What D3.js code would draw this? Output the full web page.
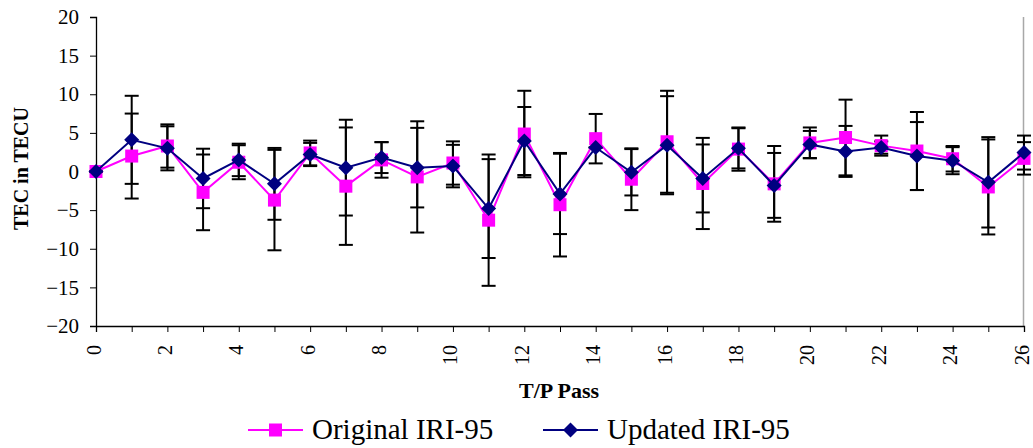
<!DOCTYPE html>
<html>
<head>
<meta charset="utf-8">
<script src="https://cdn.jsdelivr.net/npm/d3@7"></script>
<style>
  html, body { margin: 0; padding: 0; background: #fff; }
  svg { display: block; }
</style>
</head>
<body>
<svg id="chart" width="1033" height="448"></svg>
<script>
// ---- data ----
const passes = d3.range(0, 27);
const originalValues = [0, 2.0, 3.3, -2.7, 1.2, -3.7, 2.4, -1.9, 1.5, -0.7, 1.1, -6.3, 4.85, -4.3, 4.25, -1.0, 3.85, -1.55, 2.9, -1.6, 3.7, 4.4, 3.35, 2.65, 1.65, -2.0, 1.7];
const originalErrors = [0, 5.5, 2.8, 4.9, 2.2, 6.5, 1.6, 7.6, 2.3, 7.2, 2.8, 8.5, 5.6, 6.7, 3.2, 4.0, 6.6, 5.9, 2.8, 4.9, 2.0, 4.9, 1.3, 5.05, 1.65, 6.15, 2.1];
const updatedValues = [0, 4.1, 3.0, -0.9, 1.5, -1.6, 2.2, 0.5, 1.8, 0.5, 0.7, -4.8, 3.95, -2.9, 3.1, -0.1, 3.4, -0.9, 3.0, -1.8, 3.5, 2.6, 3.1, 2.0, 1.4, -1.4, 2.45];
const updatedErrors = [0, 5.7, 2.85, 3.85, 2.1, 4.65, 1.5, 6.2, 2.0, 5.15, 2.75, 6.4, 4.4, 5.2, 0, 3.0, 6.35, 4.4, 2.6, 4.2, 1.75, 3.3, 0.8, 4.4, 1.75, 5.85, 2.2];
const yTicks = [-20, -15, -10, -5, 0, 5, 10, 15, 20];
const xLabelTicks = [0, 2, 4, 6, 8, 10, 12, 14, 16, 18, 20, 22, 24, 26];
const seriesNames = ["Original IRI-95", "Updated IRI-95"];

const svg = d3.select("#chart");
const x = d3.scaleLinear().domain([0, 26]).range([96, 1024]);
const y = d3.scaleLinear().domain([-20, 20]).range([326, 17]);
const serif = "Liberation Serif, Times New Roman, serif";

// right plot border (light grey)
svg.append("line")
  .attr("x1", x(26) - 0.5).attr("x2", x(26) - 0.5).attr("y1", y(20)).attr("y2", y(-20))
  .attr("stroke", "#a8a8a8").attr("stroke-width", 1.5);

// Axes
const yAxis = svg.append("g").attr("transform", `translate(${x(0)},0)`)
  .call(d3.axisLeft(y).tickValues(yTicks).tickSize(6).tickPadding(11).tickFormat(d3.format("d")));
const xAxis = svg.append("g").attr("transform", `translate(0,${y(-20)})`)
  .call(d3.axisBottom(x).ticks(26).tickSize(6).tickFormat(""));
xAxis.selectAll(".domain").attr("stroke", "#000").attr("stroke-width", 1.3);
yAxis.selectAll(".domain").attr("stroke", "#000").attr("stroke-width", 1.3);
[xAxis, yAxis].forEach(a => a.attr("font-family", serif).selectAll(".tick line").attr("stroke", "#000").attr("stroke-width", 1));
yAxis.attr("font-size", 21);
yAxis.selectAll("text").style("font-family", serif).style("font-size", "21px").attr("fill", "#000");

// x tick labels rotated
svg.append("g").selectAll("text").data(xLabelTicks).join("text")
  .attr("transform", d => `translate(${x(d) + 4.5},${y(-20) + 19}) rotate(-90)`)
  .attr("text-anchor", "end")
  .style("font-family", serif).style("font-size", "20px").attr("fill", "#000")
  .text(d => d);

// Axis titles
svg.append("text")
  .attr("transform", `translate(28,${y(0) - 3}) rotate(-90)`)
  .attr("text-anchor", "middle")
  .style("font-family", serif).style("font-size", "20px").style("font-weight", "bold")
  .text("TEC in TECU");
svg.append("text")
  .attr("x", 559).attr("y", 398)
  .attr("text-anchor", "middle")
  .style("font-family", serif).style("font-size", "22px").style("font-weight", "bold")
  .text("T/P Pass");

// Error bars
const capW = 7;
function errorBars(vals, errs) {
  const g = svg.append("g").attr("stroke", "#000").attr("stroke-width", 2);
  passes.forEach((p, i) => {
    const cx = x(p), top = y(vals[i] + errs[i]), bot = y(vals[i] - errs[i]);
    g.append("line").attr("x1", cx).attr("x2", cx).attr("y1", top).attr("y2", bot);
    g.append("line").attr("x1", cx - capW).attr("x2", cx + capW).attr("y1", top).attr("y2", top);
    g.append("line").attr("x1", cx - capW).attr("x2", cx + capW).attr("y1", bot).attr("y2", bot);
  });
}
errorBars(originalValues, originalErrors);
errorBars(updatedValues, updatedErrors);

const line = d3.line().x((d, i) => x(passes[i])).y(d => y(d));

// Original series
svg.append("path").datum(originalValues)
  .attr("d", line).attr("fill", "none").attr("stroke", "#ff00ff").attr("stroke-width", 2);
svg.append("g").selectAll("rect").data(originalValues).join("rect")
  .attr("x", (d, i) => x(passes[i]) - 6.5).attr("y", d => y(d) - 6.5)
  .attr("width", 13).attr("height", 13).attr("fill", "#ff00ff");

// Updated series
svg.append("path").datum(updatedValues)
  .attr("d", line).attr("fill", "none").attr("stroke", "#000080").attr("stroke-width", 2);
const diamond = "M0,-7.5L7.5,0L0,7.5L-7.5,0Z";
svg.append("g").selectAll("path").data(updatedValues).join("path")
  .attr("transform", (d, i) => `translate(${x(passes[i])},${y(d)})`)
  .attr("d", diamond).attr("fill", "#000080");

// Legend
const legend = svg.append("g");
const legendItems = [
  { name: seriesNames[0], color: "#ff00ff", x1: 248, x2: 303, tx: 312, marker: "square" },
  { name: seriesNames[1], color: "#000080", x1: 543, x2: 598, tx: 607, marker: "diamond" }
];
const ly = 430;
legendItems.forEach(it => {
  legend.append("line").attr("x1", it.x1).attr("x2", it.x2).attr("y1", ly).attr("y2", ly)
    .attr("stroke", it.color).attr("stroke-width", 2);
  const mx = (it.x1 + it.x2) / 2;
  if (it.marker === "square") {
    legend.append("rect").attr("x", mx - 6.5).attr("y", ly - 6.5).attr("width", 13).attr("height", 13).attr("fill", it.color);
  } else {
    legend.append("path").attr("transform", `translate(${mx},${ly})`).attr("d", diamond).attr("fill", it.color);
  }
  legend.append("text").attr("x", it.tx).attr("y", ly + 9)
    .style("font-family", serif).style("font-size", "29px").attr("fill", "#000")
    .text(it.name);
});
</script>
</body>
</html>
